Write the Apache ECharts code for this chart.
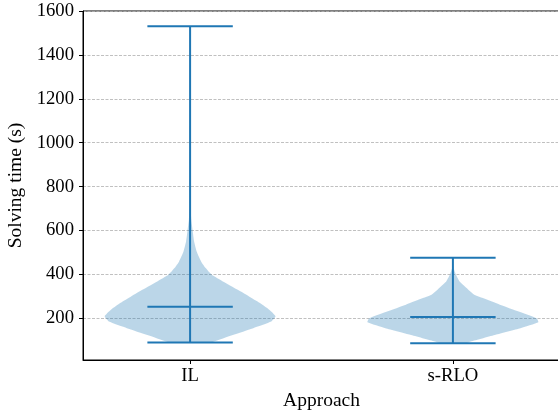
<!DOCTYPE html>
<html>
<head>
    <meta charset="utf-8">
    <script type="text/javascript" src="https://cdn.jsdelivr.net/npm/echarts@6/dist/echarts.min.js"></script>
    <title>Violin</title>
    <style>
        html, body { margin: 0; padding: 0; background: #fff; }
    </style>
</head>
<body>
    <div id="container" style="width:558px;height:414px;"></div>
    <script type="text/javascript">
    // categories and tick labels
    var categories = ['IL', 's-RLO'];
    var yTicks = [200, 400, 600, 800, 1000, 1200, 1400, 1600];

    // extrema and mean of each approach
    var minValues = [90, 86];
    var maxValues = [1530, 476];
    var meanValues = [253, 206];

    // violin outline: value -> relative density (1 = widest)
    var ilValues  = [90, 93, 124, 155, 185, 209, 238, 276, 321, 367, 400, 430, 458, 503, 550, 600, 650, 700, 800, 1000, 1200, 1530];
    var ilDensity = [0.25, 0.27, 0.5, 0.74, 0.95, 1.0, 0.93, 0.79, 0.6, 0.39, 0.25, 0.18, 0.13, 0.078, 0.047, 0.03, 0.014, 0.007, 0.004, 0.002, 0.001, 0.0];

    var srValues  = [86, 94, 125, 155, 182, 200, 231, 262, 292, 307, 338, 368, 403, 430, 476];
    var srDensity = [0.15, 0.21, 0.5, 0.79, 1.0, 0.98, 0.77, 0.55, 0.35, 0.25, 0.16, 0.078, 0.031, 0.008, 0.0];

    var profiles = [
        { values: ilValues, density: ilDensity },
        { values: srValues, density: srDensity }
    ];

    var blue = '#1f77b4';
    var halfWidth = 0.325;   // violin widths 0.65
    var capHalf = 0.1625;
    var font = 'Liberation Serif';

    var myChart = echarts.init(document.getElementById('container'));

    function renderViolin(params, api) {
        var i = params.dataIndex;
        var pos = i + 1;
        var p = profiles[i];
        var right = [], left = [];
        for (var k = 0; k < p.values.length; k++) {
            var w = p.density[k] * halfWidth;
            right.push(api.coord([pos + w, p.values[k]]));
            left.unshift(api.coord([pos - w, p.values[k]]));
        }
        return {
            type: 'polygon',
            shape: { points: right.concat(left), smooth: 0.15 },
            style: { fill: 'rgba(31,119,180,0.3)', stroke: 'none' }
        };
    }

    function seg(api, x1, y1, x2, y2) {
        var a = api.coord([x1, y1]);
        var b = api.coord([x2, y2]);
        return {
            type: 'line',
            shape: { x1: a[0], y1: a[1], x2: b[0], y2: b[1] },
            style: { stroke: blue, lineWidth: 2 }
        };
    }

    function renderLines(params, api) {
        var i = params.dataIndex;
        var pos = i + 1;
        return {
            type: 'group',
            children: [
                seg(api, pos, minValues[i], pos, maxValues[i]),
                seg(api, pos - capHalf, minValues[i], pos + capHalf, minValues[i]),
                seg(api, pos - capHalf, maxValues[i], pos + capHalf, maxValues[i]),
                seg(api, pos - capHalf, meanValues[i], pos + capHalf, meanValues[i])
            ]
        };
    }

    var option = {
        animation: false,
        grid: {
            left: 83, right: -2, top: 11, bottom: 54,
            outerBoundsMode: 'none',
            show: true, borderColor: '#000', borderWidth: 1
        },
        xAxis: {
            type: 'value',
            min: 0.5925,
            max: 2.4075,
            name: 'Approach',
            nameLocation: 'middle',
            nameGap: 28,
            nameTextStyle: { fontFamily: font, fontSize: 19.5, color: '#000' },
            axisLine: { lineStyle: { color: '#000', width: 1 } },
            axisTick: { show: true, customValues: [1, 2], length: 4, lineStyle: { color: '#000' } },
            axisLabel: {
                customValues: [1, 2],
                formatter: function (v) { return categories[Math.round(v) - 1]; },
                fontFamily: font, fontSize: 18.7, color: '#000', margin: 7
            },
            splitLine: { show: false }
        },
        yAxis: {
            type: 'value',
            min: 10,
            max: 1600,
            name: 'Solving time (s)',
            nameLocation: 'middle',
            nameGap: 52,
            nameTextStyle: { fontFamily: font, fontSize: 19.5, color: '#000' },
            axisLine: { show: true, lineStyle: { color: '#000', width: 1 } },
            axisTick: { show: true, customValues: yTicks, length: 4, lineStyle: { color: '#000' } },
            axisLabel: {
                customValues: yTicks,
                formatter: function (v) { return String(v); },
                fontFamily: font, fontSize: 18.7, color: '#000', margin: 9
            },
            splitLine: {
                show: true,
                lineStyle: { color: '#b0b0b0', width: 0.8, type: [3, 1.5] }
            }
        },
        series: [{
            type: 'custom',
            renderItem: renderViolin,
            data: [[1], [2]],
            z: 2
        }, {
            type: 'custom',
            renderItem: renderLines,
            data: [[1], [2]],
            z: 3
        }]
    };

    myChart.setOption(option);
    </script>
</body>
</html>
